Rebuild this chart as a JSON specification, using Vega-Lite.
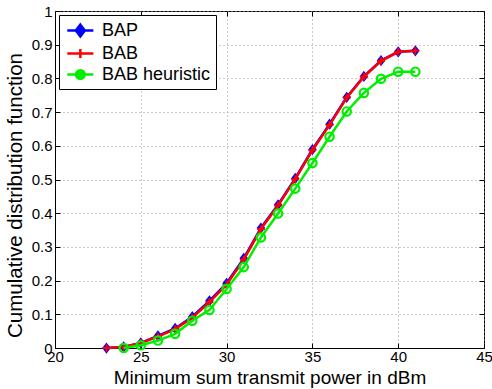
{
  "$schema": "https://vega.github.io/schema/vega-lite/v6.json",
  "width": 429,
  "height": 337,
  "autosize": {"type": "none"},
  "padding": {"left": 55, "top": 11, "right": 8, "bottom": 41},
  "background": "white",
  "config": {
    "font": "Liberation Sans",
    "view": {"stroke": "black", "strokeWidth": 1},
    "axis": {
      "labelFont": "Liberation Sans",
      "titleFont": "Liberation Sans",
      "labelFontSize": 15,
      "titleFontSize": 19,
      "titleFontWeight": "normal",
      "labelColor": "black",
      "titleColor": "black",
      "domainColor": "black",
      "tickColor": "black",
      "tickSize": -5,
      "gridColor": "#9a9a9a",
      "gridDash": [1, 3],
      "gridWidth": 1
    }
  },
  "data": {
    "values": [
      {"p": 23, "cdf": 0.0, "series": "BAP"},
      {"p": 24, "cdf": 0.003, "series": "BAP"},
      {"p": 25, "cdf": 0.015, "series": "BAP"},
      {"p": 26, "cdf": 0.036, "series": "BAP"},
      {"p": 27, "cdf": 0.058, "series": "BAP"},
      {"p": 28, "cdf": 0.093, "series": "BAP"},
      {"p": 29, "cdf": 0.14, "series": "BAP"},
      {"p": 30, "cdf": 0.192, "series": "BAP"},
      {"p": 31, "cdf": 0.266, "series": "BAP"},
      {"p": 32, "cdf": 0.356, "series": "BAP"},
      {"p": 33, "cdf": 0.425, "series": "BAP"},
      {"p": 34, "cdf": 0.503, "series": "BAP"},
      {"p": 35, "cdf": 0.589, "series": "BAP"},
      {"p": 36, "cdf": 0.664, "series": "BAP"},
      {"p": 37, "cdf": 0.744, "series": "BAP"},
      {"p": 38, "cdf": 0.806, "series": "BAP"},
      {"p": 39, "cdf": 0.853, "series": "BAP"},
      {"p": 40, "cdf": 0.879, "series": "BAP"},
      {"p": 41, "cdf": 0.882, "series": "BAP"},
      {"p": 23, "cdf": 0.0, "series": "BAB"},
      {"p": 24, "cdf": 0.003, "series": "BAB"},
      {"p": 25, "cdf": 0.015, "series": "BAB"},
      {"p": 26, "cdf": 0.034, "series": "BAB"},
      {"p": 27, "cdf": 0.056, "series": "BAB"},
      {"p": 28, "cdf": 0.09, "series": "BAB"},
      {"p": 29, "cdf": 0.136, "series": "BAB"},
      {"p": 30, "cdf": 0.188, "series": "BAB"},
      {"p": 31, "cdf": 0.262, "series": "BAB"},
      {"p": 32, "cdf": 0.353, "series": "BAB"},
      {"p": 33, "cdf": 0.423, "series": "BAB"},
      {"p": 34, "cdf": 0.501, "series": "BAB"},
      {"p": 35, "cdf": 0.587, "series": "BAB"},
      {"p": 36, "cdf": 0.662, "series": "BAB"},
      {"p": 37, "cdf": 0.743, "series": "BAB"},
      {"p": 38, "cdf": 0.805, "series": "BAB"},
      {"p": 39, "cdf": 0.852, "series": "BAB"},
      {"p": 40, "cdf": 0.879, "series": "BAB"},
      {"p": 41, "cdf": 0.882, "series": "BAB"},
      {"p": 24, "cdf": 0.0, "series": "BAB heuristic"},
      {"p": 25, "cdf": 0.008, "series": "BAB heuristic"},
      {"p": 26, "cdf": 0.022, "series": "BAB heuristic"},
      {"p": 27, "cdf": 0.042, "series": "BAB heuristic"},
      {"p": 28, "cdf": 0.081, "series": "BAB heuristic"},
      {"p": 29, "cdf": 0.113, "series": "BAB heuristic"},
      {"p": 30, "cdf": 0.175, "series": "BAB heuristic"},
      {"p": 31, "cdf": 0.24, "series": "BAB heuristic"},
      {"p": 32, "cdf": 0.328, "series": "BAB heuristic"},
      {"p": 33, "cdf": 0.399, "series": "BAB heuristic"},
      {"p": 34, "cdf": 0.473, "series": "BAB heuristic"},
      {"p": 35, "cdf": 0.549, "series": "BAB heuristic"},
      {"p": 36, "cdf": 0.627, "series": "BAB heuristic"},
      {"p": 37, "cdf": 0.702, "series": "BAB heuristic"},
      {"p": 38, "cdf": 0.757, "series": "BAB heuristic"},
      {"p": 39, "cdf": 0.799, "series": "BAB heuristic"},
      {"p": 40, "cdf": 0.82, "series": "BAB heuristic"},
      {"p": 41, "cdf": 0.82, "series": "BAB heuristic"}
    ]
  },
  "encoding": {
    "x": {
      "field": "p", "type": "quantitative",
      "scale": {"domain": [20, 45], "nice": false, "zero": false},
      "axis": null
    },
    "y": {
      "field": "cdf", "type": "quantitative",
      "scale": {"domain": [0, 1], "nice": false},
      "axis": null
    },
    "color": {
      "field": "series", "type": "nominal",
      "scale": {"domain": ["BAP", "BAB", "BAB heuristic"], "range": ["#0000ff", "#ff0000", "#00ee00"]},
      "legend": null
    }
  },
  "resolve": {"axis": {"x": "independent", "y": "independent"}},
  "layer": [
    {
      "transform": [{"filter": "datum.series === 'BAP'"}],
      "mark": {"type": "line", "strokeWidth": 2.5},
      "encoding": {
        "x": {
          "field": "p", "type": "quantitative",
          "axis": {"values": [20, 25, 30, 35, 40, 45], "title": "Minimum sum transmit power in dBm", "grid": true, "labelPadding": 18, "labelBaseline": "alphabetic", "titleY": 35, "titleBaseline": "alphabetic", "labelFlush": false}
        },
        "y": {
          "field": "cdf", "type": "quantitative",
          "axis": {"values": [0, 0.1, 0.2, 0.3, 0.4, 0.5, 0.6, 0.7, 0.8, 0.9, 1], "format": "~g", "title": "Cumulative distribution function", "titleFontSize": 20.5, "titleY": 184, "grid": true, "labelPadding": 8, "titlePadding": 6, "labelFlush": false}
        },
        "color": {
          "field": "series", "type": "nominal",
          "legend": {
            "title": null,
            "orient": "top-left",
            "offset": 4,
            "padding": 5,
            "fillColor": "white",
            "strokeColor": "black",
            "labelFont": "Liberation Sans",
            "labelFontSize": 18,
            "labelColor": "black",
            "symbolSize": 324,
            "symbolStrokeWidth": 2.5,
            "rowPadding": 1,
            "labelOffset": 17,
            "encode": {
              "symbols": {
                "update": {
                  "shape": {"signal": "datum.value === 'BAP' ? 'M-0.8,0H2.1M0.65,-0.65L1.15,0L0.65,0.65L0.15,0Z' : datum.value === 'BAB' ? 'M-0.8,0H2.1M0.65,-0.5V0.5' : 'M-0.8,0H2.1M1.13,0A0.48,0.48 0 1,1 0.17,0A0.48,0.48 0 1,1 1.13,0'"},
                  "fill": {"signal": "datum.value === 'BAP' ? '#0000ff' : 'transparent'"},
                  "stroke": {"signal": "datum.value === 'BAP' ? '#0000ff' : datum.value === 'BAB' ? '#ff0000' : '#00ee00'"},
                  "strokeWidth": {"value": 2.5}
                }
              }
            }
          }
        }
      }
    },
    {
      "transform": [{"filter": "datum.series === 'BAP'"}],
      "mark": {"type": "point", "shape": "M0,-1.25L0.95,0L0,1.25L-0.95,0Z", "filled": true, "size": 81, "opacity": 1}
    },
    {
      "transform": [{"filter": "datum.series === 'BAB'"}],
      "mark": {"type": "line", "strokeWidth": 2.5}
    },
    {
      "transform": [{"filter": "datum.series === 'BAB'"}],
      "mark": {"type": "point", "shape": "M-1,0H1M0,-1V1", "filled": false, "size": 60, "strokeWidth": 2, "opacity": 1}
    },
    {
      "transform": [{"filter": "datum.series === 'BAB heuristic'"}],
      "mark": {"type": "line", "strokeWidth": 2.5}
    },
    {
      "transform": [{"filter": "datum.series === 'BAB heuristic'"}],
      "mark": {"type": "point", "shape": "circle", "filled": false, "size": 70, "strokeWidth": 2.2, "opacity": 1},
      "encoding": {
        "x": {
          "field": "p", "type": "quantitative",
          "axis": {"orient": "top", "values": [20, 25, 30, 35, 40, 45], "labels": false, "title": null, "grid": false, "domain": false}
        },
        "y": {
          "field": "cdf", "type": "quantitative",
          "axis": {"orient": "right", "values": [0, 0.1, 0.2, 0.3, 0.4, 0.5, 0.6, 0.7, 0.8, 0.9, 1], "labels": false, "title": null, "grid": false, "domain": false}
        }
      }
    }
  ]
}
